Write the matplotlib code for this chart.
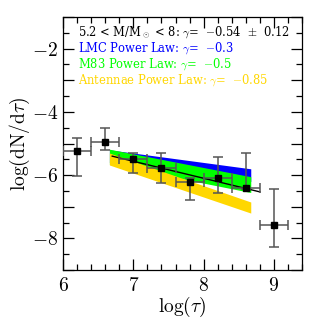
import matplotlib
matplotlib.use("Agg")
import matplotlib.pyplot as plt
from matplotlib.ticker import MultipleLocator, FuncFormatter

plt.rcParams['mathtext.fontset'] = 'cm'
plt.rcParams['font.family'] = ['DejaVu Serif']

# data points
log_tau = [6.2, 6.6, 7.0, 7.4, 7.8, 8.2, 8.6, 9.0]
log_dn = [-5.25, -4.95, -5.48, -5.79, -6.21, -6.09, -6.40, -7.57]
err_hi = [-4.84, -4.50, -5.31, -5.31, -6.10, -5.42, -5.29, -6.44]
err_lo = [-6.03, -5.21, -5.94, -6.25, -6.79, -6.58, -6.45, -8.28]
xerr = [0.2] * 8

# fit line
fit_x = [6.7, 8.8]
fit_y = [-5.40, -6.53]

# power-law bands: x range, top (left,right), bottom (left,right)
band_x = [6.66, 8.67]
blue_top = [-5.20, -5.80]
blue_bot = [-5.60, -6.20]
green_top = [-5.18, -6.05]
green_bot = [-5.66, -6.55]
gold_top = [-5.30, -6.85]
gold_bot = [-5.68, -7.20]

fig = plt.figure(figsize=(3.19, 3.19), dpi=100)
ax = fig.add_axes([0.1975, 0.1536, 0.7495, 0.7931])

ax.fill_between(band_x, blue_bot, blue_top, color='#0000ff', lw=0, zorder=1)
ax.fill_between(band_x, green_bot, green_top, color='#00ff00', lw=0, zorder=2)
ax.fill_between(band_x, gold_bot, gold_top, color='#ffd700', lw=0, zorder=3)

ax.plot(fit_x, fit_y, color='black', lw=1.0, zorder=4)

yerr = [[d - l for d, l in zip(log_dn, err_lo)], [h - d for d, h in zip(log_dn, err_hi)]]
ax.errorbar(log_tau, log_dn, xerr=xerr, yerr=yerr, fmt='none', ecolor='#555555',
            elinewidth=1.1, capsize=3.5, capthick=1.1, zorder=5)
ax.plot(log_tau, log_dn, 's', color='black', ms=4.5, zorder=6)

ax.set_xlim(6.0, 9.4)
ax.set_ylim(-9.0, -1.0)
ax.xaxis.set_major_locator(MultipleLocator(1))
ax.xaxis.set_minor_locator(MultipleLocator(0.2))
ax.yaxis.set_major_locator(MultipleLocator(1))
ax.yaxis.set_minor_locator(MultipleLocator(0.5))
ax.xaxis.set_major_formatter(FuncFormatter(lambda v, p: r'$%d$' % round(v)))
ax.yaxis.set_major_formatter(FuncFormatter(lambda v, p: (r'$%d$' % round(v)) if round(v) % 2 == 0 else ''))
ax.tick_params(which='both', direction='in', top=True, right=True, labelsize=14, width=0.9)
ax.tick_params(which='major', length=8)
ax.tick_params(which='minor', length=4.5)
ax.tick_params(axis='x', pad=5)
for s in ax.spines.values():
    s.set_linewidth(0.9)

ax.set_xlabel(r'$\log(\tau)$', fontsize=14, labelpad=0)
ax.set_ylabel(r'$\log(\mathrm{dN/d}\tau)$', fontsize=14, labelpad=0)

fs = 8.3
ax.text(0.063, 0.937, r'5.2 < M/M$_\odot$ < 8: $\gamma$=  $-$0.54  $\pm$  0.12', transform=ax.transAxes,
        fontsize=fs, color='black', va='center', ha='left')
ax.text(0.063, 0.877, r'LMC Power Law: $\gamma$=  $-$0.3', transform=ax.transAxes,
        fontsize=fs, color='#0000ff', va='center', ha='left')
ax.text(0.063, 0.814, r'M83 Power Law: $\gamma$=  $-$0.5', transform=ax.transAxes,
        fontsize=fs, color='#00ff00', va='center', ha='left')
ax.text(0.063, 0.751, r'Antennae Power Law: $\gamma$=  $-$0.85', transform=ax.transAxes,
        fontsize=fs, color='#ffd700', va='center', ha='left')

fig.savefig('out.png', dpi=100)
